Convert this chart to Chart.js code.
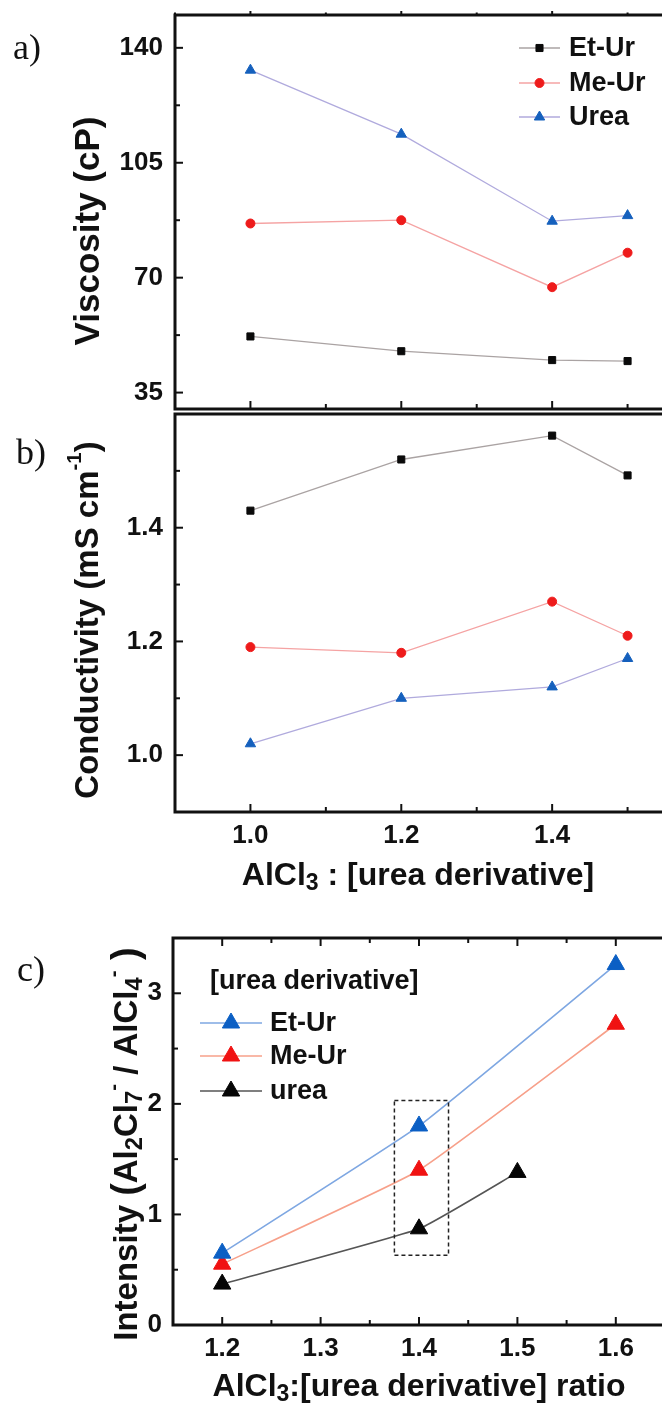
<!DOCTYPE html>
<html><head><meta charset="utf-8">
<script src="https://cdn.jsdelivr.net/npm/chart.js@4.4.0/dist/chart.umd.min.js"></script>
<style>
html,body{margin:0;padding:0;background:#fff;overflow:hidden;}
#wrap{position:relative;width:662px;height:1403px;overflow:hidden;background:#fff;}
canvas{position:absolute;left:0;}
</style></head><body>
<div id="wrap">
<canvas id="ca" width="710" height="416" style="top:0px"></canvas>
<canvas id="cb" width="710" height="500" style="top:400px"></canvas>
<canvas id="cc" width="700" height="503" style="top:900px"></canvas>
</div>
<script>
// ---------- data ----------
const ratioAB = [1.0, 1.2, 1.4, 1.5];
const viscEtUr = [52.1, 47.6, 44.9, 44.6];
const viscMeUr = [86.5, 87.5, 67.1, 77.6];
const viscUrea = [133.2, 113.7, 87.2, 88.9];
const condEtUr = [1.43, 1.52, 1.562, 1.492];
const condMeUr = [1.19, 1.18, 1.27, 1.21];
const condUrea = [1.02, 1.10, 1.12, 1.17];
const ratioCEt = [1.2, 1.4, 1.6];
const ratioCMe = [1.2, 1.4, 1.6];
const ratioCUrea = [1.2, 1.4, 1.5];
const intEtUr = [0.65, 1.80, 3.26];
const intMeUr = [0.55, 1.40, 2.72];
const intUrea = [0.37, 0.87, 1.38];
const seriesAB = ['Et-Ur', 'Me-Ur', 'Urea'];
const seriesC = ['Et-Ur', 'Me-Ur', 'urea'];
const legendTitleC = '[urea derivative]';
// ticks
const viscLabels = [35, 70, 105, 140];
const viscMinor = [52.5, 87.5, 122.5];
const condLabels = [1.0, 1.2, 1.4];
const condMinor = [1.1, 1.3, 1.5];
const ratioLabelsAB = [1.0, 1.2, 1.4, 1.6];
const ratioMinorAB = [0.9, 1.1, 1.3, 1.5];
const intLabels = [0, 1, 2, 3];
const intMinor = [0.5, 1.5, 2.5, 3.5];
const ratioLabelsC = [1.2, 1.3, 1.4, 1.5, 1.6];
const ratioMinorC = [1.25, 1.35, 1.45, 1.55];
const boxCx = [1.375, 1.43];
const boxCy = [0.63, 2.03];

// ---------- helpers ----------
const SANS = "'Liberation Sans', Arial, Helvetica, sans-serif";
const SERIF = "'Liberation Serif', 'Times New Roman', serif";
const pts = (xs, ys) => xs.map((x, i) => ({x: x, y: ys[i]}));
const fixTicks = arr => (s => { s.ticks = arr.map(v => ({value: v})); });
const fitY = w => (s => { s.width = w; s.paddingTop = 0; s.paddingBottom = 0; });
const fitX = h => (s => { s.height = h; s.paddingLeft = 0; s.paddingRight = 0; });

function drawRich(ctx, segs, x, y, rot, size, family, weight) {
  ctx.save();
  ctx.translate(x, y);
  ctx.rotate(rot);
  ctx.textBaseline = 'middle';
  ctx.textAlign = 'left';
  ctx.fillStyle = '#111';
  let w = 0;
  const parts = segs.map(s => {
    let fs = size * (s.scale || 1), dy = 0;
    if (s.k === 'sub') { fs = size * 0.72; dy = size * 0.24; }
    if (s.k === 'sup') { fs = size * 0.62; dy = -size * 0.42; }
    ctx.font = weight + ' ' + fs + 'px ' + family;
    const m = ctx.measureText(s.t).width;
    const p = {t: s.t, fs: fs, dy: dy, x: w};
    w += m;
    return p;
  });
  for (const p of parts) {
    ctx.font = weight + ' ' + p.fs + 'px ' + family;
    ctx.fillText(p.t, p.x - w / 2, p.dy);
  }
  ctx.restore();
}

const framePlugin = {
  id: 'frame',
  afterDraw(chart, args, o) {
    const {ctx, chartArea: a, scales} = chart;
    const xs = scales.x, ys = scales.y;
    ctx.save();
    ctx.strokeStyle = '#111';
    ctx.lineWidth = 2;
    const seg = (x1, y1, x2, y2) => { ctx.beginPath(); ctx.moveTo(x1, y1); ctx.lineTo(x2, y2); ctx.stroke(); };
    const L = 8, Lm = 5;
    [[o.xMajor, L], [o.xMinor, Lm]].forEach(([vals, len]) => vals.forEach(v => {
      const px = xs.getPixelForValue(v);
      seg(px, a.bottom, px, a.bottom - len);
      if (o.top === 'in') seg(px, a.top, px, a.top + len);
      if (o.top === 'out') seg(px, a.top, px, a.top - len * 0.5);
    }));
    [[o.yMajor, L], [o.yMinor, Lm]].forEach(([vals, len]) => vals.forEach(v => {
      const py = ys.getPixelForValue(v);
      seg(a.left, py, a.left + len, py);
    }));
    ctx.lineWidth = 3;
    ctx.strokeRect(a.left, a.top, a.right - a.left, a.bottom - a.top);
    ctx.restore();
  }
};

const legendPlugin = {
  id: 'lgd',
  afterDraw(chart, args, o) {
    const {ctx, chartArea: a} = chart;
    if (!o.rows) return;
    ctx.save();
    if (o.title) {
      ctx.font = 'bold ' + o.titleSize + 'px ' + SANS;
      ctx.fillStyle = '#111';
      ctx.textBaseline = 'middle';
      ctx.fillText(o.title, a.left + o.titleX, a.top + o.titleY);
    }
    chart.data.datasets.forEach((ds, i) => {
      const y = a.top + o.rows[i];
      ctx.strokeStyle = ds.borderColor;
      ctx.lineWidth = ds.borderWidth;
      ctx.beginPath(); ctx.moveTo(a.left + o.x0, y); ctx.lineTo(a.left + o.x1, y); ctx.stroke();
      ctx.fillStyle = ds.pointBackgroundColor;
      ctx.strokeStyle = ds.pointBorderColor;
      ctx.lineWidth = ds.pointBorderWidth;
      Chart.helpers.drawPoint(ctx, {pointStyle: ds.pointStyle, radius: ds.pointRadius, rotation: 0, borderWidth: ds.pointBorderWidth}, a.left + (o.x0 + o.x1) / 2, y);
      ctx.font = 'bold ' + o.size + 'px ' + SANS;
      ctx.fillStyle = '#111';
      ctx.textBaseline = 'middle';
      ctx.fillText(ds.label, a.left + o.tx, y + 1);
    });
    ctx.restore();
  }
};

const textPlugin = {
  id: 'txt',
  afterDraw(chart, args, o) {
    const ctx = chart.ctx;
    (o.items || []).forEach(it => drawRich(ctx, it.segs, it.x, it.y, it.rot || 0, it.size, it.family || SANS, it.weight || 'bold'));
  }
};

const boxPlugin = {
  id: 'dbox',
  afterDatasetsDraw(chart, args, o) {
    if (!o.x) return;
    const {ctx, scales} = chart;
    const x1 = scales.x.getPixelForValue(o.x[0]), x2 = scales.x.getPixelForValue(o.x[1]);
    const y1 = scales.y.getPixelForValue(o.y[1]), y2 = scales.y.getPixelForValue(o.y[0]);
    ctx.save();
    ctx.setLineDash([4, 3]);
    ctx.strokeStyle = '#222';
    ctx.lineWidth = 1.5;
    ctx.strokeRect(x1, y1, x2 - x1, y2 - y1);
    ctx.restore();
  }
};

Chart.register(framePlugin, legendPlugin, textPlugin, boxPlugin);

const tickFont = {family: SANS, size: 26, weight: 'bold'};

function ds(label, data, line, marker, style, r, lw, tension) {
  return {label: label, data: data, showLine: true, borderColor: line, borderWidth: lw,
    pointStyle: style, pointRadius: r, pointHoverRadius: r, pointBackgroundColor: marker,
    pointBorderColor: marker, pointBorderWidth: 1, tension: tension || 0, fill: false};
}

const base = (extra) => Object.assign({
  responsive: false, animation: false, maintainAspectRatio: false,
  events: [],
}, extra);

// ---------- chart a ----------
new Chart(document.getElementById('ca'), {
  type: 'scatter',
  data: {datasets: [
    ds(seriesAB[0], pts(ratioAB, viscEtUr), '#aaa3a3', '#0a0a0a', 'rect', 5, 1.3),
    ds(seriesAB[1], pts(ratioAB, viscMeUr), '#f5a3a3', '#ee1b1b', 'circle', 4.5, 1.3),
    ds(seriesAB[2], pts(ratioAB, viscUrea), '#b0aadd', '#1560bd', 'triangle', 6, 1.3)
  ]},
  options: base({
    layout: {padding: {top: 15, bottom: 2, left: 0, right: 7}},
    scales: {
      x: {type: 'linear', min: 0.9, max: 1.6, display: false},
      y: {type: 'linear', min: 30, max: 150,
        afterFit: fitY(175),
        afterBuildTicks: fixTicks(viscLabels),
        grid: {display: false, drawTicks: false}, border: {display: false},
        ticks: {font: tickFont, color: '#111', padding: 12, callback: v => v.toFixed(0)}}
    },
    plugins: {
      legend: {display: false}, tooltip: {enabled: false},
      frame: {xMajor: ratioLabelsAB, xMinor: ratioMinorAB, yMajor: viscLabels, yMinor: viscMinor, top: 'out'},
      lgd: {x0: 344, x1: 385, tx: 394, rows: [33, 68, 102], size: 27},
      txt: {items: [
        {segs: [{t: 'a)'}], x: 27, y: 50, size: 36, family: SERIF, weight: 'normal'},
        {segs: [{t: 'Viscosity (cP)'}], x: 89, y: 231, rot: -Math.PI / 2, size: 35}
      ]}
    }
  })
});

// ---------- chart b ----------
new Chart(document.getElementById('cb'), {
  type: 'scatter',
  data: {datasets: [
    ds(seriesAB[0], pts(ratioAB, condEtUr), '#aaa3a3', '#0a0a0a', 'rect', 5, 1.3),
    ds(seriesAB[1], pts(ratioAB, condMeUr), '#f5a3a3', '#ee1b1b', 'circle', 4.5, 1.3),
    ds(seriesAB[2], pts(ratioAB, condUrea), '#b0aadd', '#1560bd', 'triangle', 6, 1.3)
  ]},
  options: base({
    layout: {padding: {top: 14, bottom: 28, left: 0, right: 7}},
    scales: {
      x: {type: 'linear', min: 0.9, max: 1.6,
        afterFit: fitX(60),
        afterBuildTicks: fixTicks(ratioLabelsAB),
        grid: {display: false, drawTicks: false}, border: {display: false},
        ticks: {font: tickFont, color: '#111', padding: 8, autoSkip: false, maxRotation: 0, callback: v => v.toFixed(1)}},
      y: {type: 'linear', min: 0.9, max: 1.6,
        afterFit: fitY(175),
        afterBuildTicks: fixTicks(condLabels),
        grid: {display: false, drawTicks: false}, border: {display: false},
        ticks: {font: tickFont, color: '#111', padding: 12, callback: v => v.toFixed(1)}}
    },
    plugins: {
      legend: {display: false}, tooltip: {enabled: false},
      frame: {xMajor: ratioLabelsAB, xMinor: ratioMinorAB, yMajor: condLabels, yMinor: condMinor, top: 'none'},
      txt: {items: [
        {segs: [{t: 'b)'}], x: 31, y: 55, size: 36, family: SERIF, weight: 'normal'},
        {segs: [{t: 'Conductivity (mS cm'}, {t: '-1', k: 'sup'}, {t: ')'}], x: 89, y: 220, rot: -Math.PI / 2, size: 33},
        {segs: [{t: 'AlCl'}, {t: '3', k: 'sub'}, {t: ' : [urea derivative]'}], x: 418, y: 476, size: 32}
      ]}
    }
  })
});

// ---------- chart c ----------
new Chart(document.getElementById('cc'), {
  type: 'scatter',
  data: {datasets: [
    ds(seriesC[0], pts(ratioCEt, intEtUr), '#7ea7e2', '#0b5fc4', 'triangle', 10, 1.6, 0.12),
    ds(seriesC[1], pts(ratioCMe, intMeUr), '#f7a08a', '#f01212', 'triangle', 10, 1.6, 0.12),
    ds(seriesC[2], pts(ratioCUrea, intUrea), '#555555', '#050505', 'triangle', 10, 1.6, 0.12)
  ]},
  options: base({
    layout: {padding: {top: 38, bottom: 18, left: 0, right: 35}},
    scales: {
      x: {type: 'linear', min: 1.15, max: 1.65,
        afterFit: fitX(60),
        afterBuildTicks: fixTicks(ratioLabelsC),
        grid: {display: false, drawTicks: false}, border: {display: false},
        ticks: {font: tickFont, color: '#111', padding: 8, autoSkip: false, maxRotation: 0, callback: v => v.toFixed(1)}},
      y: {type: 'linear', min: 0, max: 3.5,
        afterFit: fitY(173),
        afterBuildTicks: fixTicks(intLabels),
        grid: {display: false, drawTicks: false}, border: {display: false},
        ticks: {font: tickFont, color: '#111', padding: 11, callback: v => v.toFixed(0)}}
    },
    plugins: {
      legend: {display: false}, tooltip: {enabled: false},
      frame: {xMajor: ratioLabelsC, xMinor: ratioMinorC, yMajor: intLabels, yMinor: intMinor, top: 'in'},
      lgd: {title: legendTitleC, titleSize: 27, titleX: 37, titleY: 44, x0: 27, x1: 89, tx: 97, rows: [85, 118, 153], size: 27},
      dbox: {x: boxCx, y: boxCy},
      txt: {items: [
        {segs: [{t: 'c)'}], x: 31, y: 72, size: 36, family: SERIF, weight: 'normal'},
        {segs: [{t: 'Intensity '}, {t: '(', scale: 1.15}, {t: 'Al'}, {t: '2', k: 'sub'}, {t: 'Cl'}, {t: '7', k: 'sub'}, {t: '-', k: 'sup'}, {t: ' / AlCl'}, {t: '4', k: 'sub'}, {t: '-', k: 'sup'}, {t: ' )', scale: 1.15}], x: 128, y: 244, rot: -Math.PI / 2, size: 33},
        {segs: [{t: 'AlCl'}, {t: '3', k: 'sub'}, {t: ':[urea derivative] ratio'}], x: 419, y: 487, size: 32}
      ]}
    }
  })
});
</script>
</body></html>
